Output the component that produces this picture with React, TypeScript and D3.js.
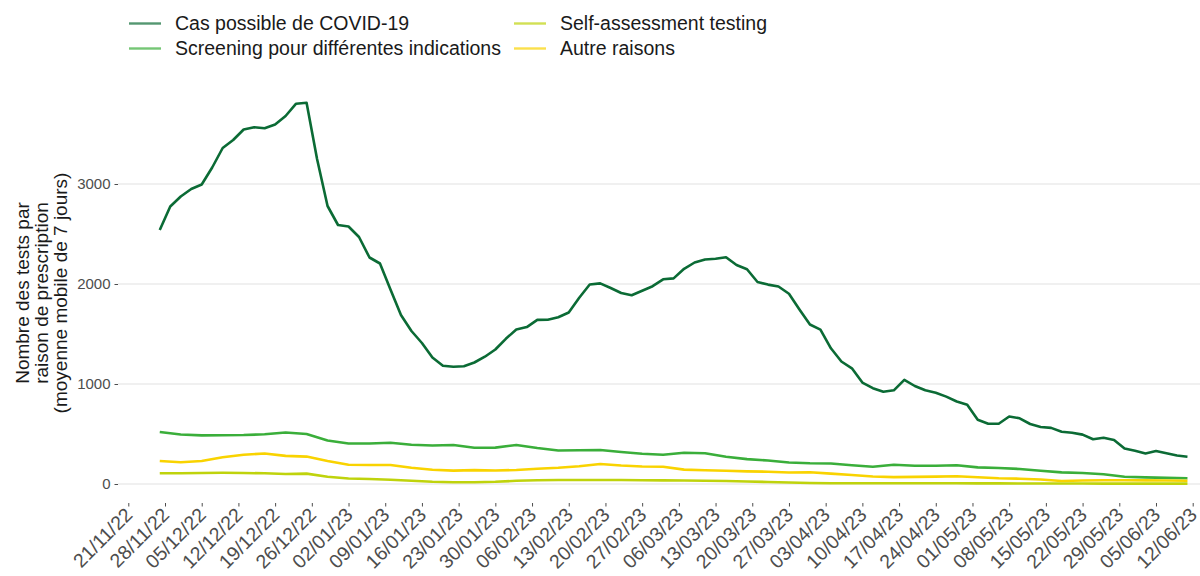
import React, { useEffect, useRef } from 'react';
import * as d3 from 'd3';

// first day of the 7-day moving averages
const startDate = '27/11/22';

// daily values read every 2 days
const casPossible = [
  2540, 2775, 2875, 2950, 2995, 3165, 3360, 3440, 3545, 3568,
  3557, 3595, 3680, 3803, 3813, 3250, 2780, 2590, 2575, 2470,
  2265, 2205, 1945, 1690, 1530, 1410, 1265, 1182, 1173, 1178,
  1215, 1273, 1345, 1452, 1545, 1569, 1641, 1642, 1667, 1715,
  1862, 1995, 2006, 1960, 1910, 1888, 1932, 1978, 2047, 2056,
  2152, 2215, 2245, 2253, 2268, 2190, 2148, 2020, 1994, 1975,
  1902, 1745, 1595, 1544, 1357, 1225, 1157, 1014, 958, 923,
  937, 1042, 980, 937, 913, 874, 825, 792, 642, 603,
  602, 675, 657, 600, 570, 561, 523, 513, 494, 447,
  462, 440, 355, 332, 306, 330, 307, 285, 273,
];

// read every 4 days
const screening = [
  520, 495, 486, 488, 490, 497, 515, 500, 435, 405,
  405, 412, 393, 385, 390, 362, 364, 390, 360, 335,
  337, 340, 320, 302, 292, 312, 308, 273, 249, 235,
  215, 207, 205, 188, 173, 192, 183, 183, 188, 166,
  160, 150, 133, 116, 110, 98, 72, 66, 61, 57,
];

const selfAssessment = [
  107, 108, 110, 112, 110, 107, 100, 104, 72, 55,
  50, 42, 32, 22, 17, 18, 22, 32, 38, 40,
  40, 40, 40, 38, 36, 35, 33, 30, 25, 20,
  15, 10, 8, 7, 7, 8, 8, 8, 7, 6,
  6, 5, 5, 5, 5, 4, 4, 4, 4, 4,
];

const autreRaisons = [
  230, 217, 230, 267, 293, 305, 281, 274, 230, 192,
  190, 190, 162, 142, 134, 139, 135, 140, 152, 162,
  178, 200, 185, 175, 172, 144, 138, 133, 126, 123,
  115, 117, 104, 90, 75, 69, 71, 74, 78, 68,
  58, 53, 45, 30, 35, 37, 37, 36, 35, 33,
];

const tickLabels = [
  '21/11/22', '28/11/22', '05/12/22', '12/12/22', '19/12/22', '26/12/22',
  '02/01/23', '09/01/23', '16/01/23', '23/01/23', '30/01/23', '06/02/23',
  '13/02/23', '20/02/23', '27/02/23', '06/03/23', '13/03/23', '20/03/23',
  '27/03/23', '03/04/23', '10/04/23', '17/04/23', '24/04/23', '01/05/23',
  '08/05/23', '15/05/23', '22/05/23', '29/05/23', '05/06/23', '12/06/23',
];

const yTicks = [0, 1000, 2000, 3000];

const seriesNames = [
  'Cas possible de COVID-19',
  'Screening pour différentes indications',
  'Self-assessment testing',
  'Autre raisons',
];
const seriesColors = ['#0b6b35', '#3aae3a', '#bfd30c', '#f9d300'];
const seriesSteps = [2, 4, 4, 4];
const seriesValues = [casPossible, screening, selfAssessment, autreRaisons];

const W = 1200;
const H = 576;
const font = '"Liberation Sans", Arial, sans-serif';

export default function App() {
  const ref = useRef<SVGSVGElement>(null);

  useEffect(() => {
    const parse = d3.timeParse('%d/%m/%y');
    const start = parse(startDate) as Date;
    const ticks = tickLabels.map(t => parse(t) as Date);

    const x = d3
      .scaleTime()
      .domain([ticks[0], ticks[ticks.length - 1]])
      .range([128.3, 1192.7]);
    const y = d3.scaleLinear().domain([0, 3000]).range([484, 184]);

    const panel = { left: 118, right: W, top: 84, bottom: 503 };

    const svg = d3.select(ref.current);
    svg.selectAll('*').remove();

    // grid
    svg
      .append('g')
      .selectAll('line')
      .data(yTicks)
      .join('line')
      .attr('x1', panel.left)
      .attr('x2', panel.right)
      .attr('y1', d => y(d))
      .attr('y2', d => y(d))
      .attr('stroke', '#ebebeb')
      .attr('stroke-width', 1.4);

    // y axis
    const yAxis = svg
      .append('g')
      .attr('transform', `translate(${panel.left},0)`)
      .call(d3.axisLeft(y).tickValues(yTicks).tickSize(3.5).tickPadding(4).tickFormat(d3.format('d')));
    yAxis.select('.domain').remove();
    yAxis.selectAll('line').attr('stroke', '#4d4d4d');
    yAxis
      .selectAll('text')
      .attr('fill', '#4d4d4d')
      .style('font-family', font)
      .style('font-size', '15px');

    // x axis
    const xAxis = svg
      .append('g')
      .attr('transform', `translate(0,${panel.bottom})`)
      .call(d3.axisBottom(x).tickValues(ticks).tickSize(3.5).tickFormat((d, i) => tickLabels[i]));
    xAxis.select('.domain').remove();
    xAxis.selectAll('line').attr('stroke', '#4d4d4d');
    xAxis
      .selectAll('text')
      .attr('fill', '#4d4d4d')
      .attr('text-anchor', 'end')
      .attr('dy', null)
      .attr('y', 0)
      .attr('transform', 'translate(5,13) rotate(-45)')
      .style('font-family', font)
      .style('font-size', '19.5px');

    // lines
    const line = d3
      .line<{ date: Date; value: number }>()
      .x(d => x(d.date))
      .y(d => y(d.value));

    seriesValues.forEach((values, s) => {
      const pts = values.map((v, i) => ({ date: d3.timeDay.offset(start, i * seriesSteps[s]), value: v }));
      svg
        .append('path')
        .datum(pts)
        .attr('fill', 'none')
        .attr('stroke', seriesColors[s])
        .attr('stroke-width', 2.6)
        .attr('stroke-linejoin', 'round')
        .attr('d', line);
    });

    // y title
    const title = svg
      .append('text')
      .attr('transform', 'translate(0,293) rotate(-90)')
      .attr('text-anchor', 'middle')
      .attr('fill', '#1a1a1a')
      .style('font-family', font)
      .style('font-size', '19px');
    ['Nombre des tests par', 'raison de prescription', '(moyenne mobile de 7 jours)'].forEach((t, i) => {
      title
        .append('tspan')
        .attr('x', 0)
        .attr('y', 29 + i * 19)
        .text(t);
    });

    // legend
    const legend = svg.append('g');
    seriesNames.forEach((name, i) => {
      const col = Math.floor(i / 2);
      const row = i % 2;
      const lx = col === 0 ? 129 : 514;
      const ly = 23.5 + row * 25;
      const g = legend.append('g').attr('transform', `translate(${lx},${ly})`);
      g.append('line')
        .attr('x1', 0)
        .attr('x2', 32)
        .attr('stroke', seriesColors[i])
        .attr('stroke-opacity', 0.7)
        .attr('stroke-width', 2.4);
      g.append('text')
        .attr('x', 46)
        .attr('dy', '0.35em')
        .attr('fill', '#1a1a1a')
        .style('font-family', font)
        .style('font-size', '19.5px')
        .text(name);
    });
  }, []);

  return (
    <svg
      ref={ref}
      width={W}
      height={H}
      style={{ position: 'absolute', left: 0, top: 0, background: '#fff' }}
    />
  );
}
